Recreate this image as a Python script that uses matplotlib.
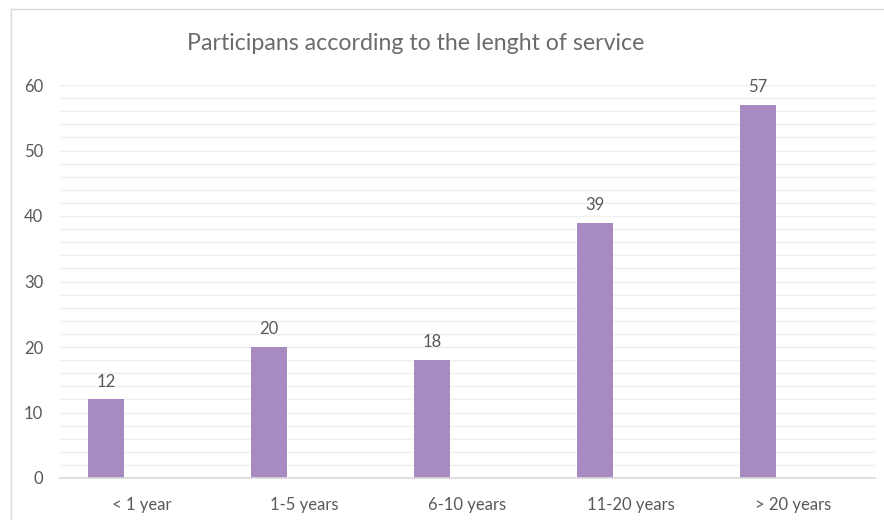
import matplotlib
matplotlib.use("Agg")
import matplotlib.pyplot as plt
from matplotlib.lines import Line2D
import numpy as np

categories = ["< 1 year", "1-5 years", "6-10 years", "11-20 years", "> 20 years"]
values = [12, 20, 18, 39, 57]
title = "Participans according to the lenght of service"

plt.rcParams['font.family'] = ['Lato', 'DejaVu Sans']

W, H = 884, 520
fig = plt.figure(figsize=(W/100, H/100), dpi=100)
fig.patch.set_facecolor("white")

left, right, bottom_px, top_px = 60, 875, 478, 85
ax = fig.add_axes([left/W, (H-bottom_px)/H, (right-left)/W, (bottom_px-top_px)/H])

x = np.arange(len(categories))
bar_w = 36/163
offset = -35.5/163
bars = ax.bar(x + offset, values, width=bar_w, color="#A68AC0", zorder=3)

ax.set_xlim(-0.5, len(categories) - 0.5)
ax.set_ylim(0, 60)
ax.set_yticks(np.arange(0, 61, 10))
ax.set_yticks(np.arange(0, 61, 2), minor=True)
ax.grid(axis="y", which="both", color="#EFEFEF", linewidth=1, zorder=0)
ax.set_xticks(x)
ax.set_xticklabels(categories)
ax.tick_params(axis="both", which="both", length=0, colors="#595959", labelsize=12)
ax.tick_params(axis="x", pad=13.5)
ax.tick_params(axis="y", pad=12)
for s in ["top", "right", "left"]:
    ax.spines[s].set_visible(False)
ax.spines["bottom"].set_color("#D9D9D9")
ax.spines["bottom"].set_linewidth(1.2)
ax.spines["bottom"].set_zorder(4)

for xi, v in zip(x + offset, values):
    ax.annotate(str(v), (xi, v), xytext=(0, 7), textcoords="offset points",
                ha="center", va="bottom", color="#595959", fontsize=12)

fig.text(415.5/W, 1 - 43/H, title, ha="center", va="center", fontsize=16.7, color="#6B6B6B")

# chart frame
fig.add_artist(Line2D([11/W, 11/W], [0, 1 - 9/H], color="#D9D9D9", linewidth=1))
fig.add_artist(Line2D([11/W, 1], [1 - 9/H, 1 - 9/H], color="#D9D9D9", linewidth=1))

fig.savefig("out.png", dpi=100, facecolor="white")
